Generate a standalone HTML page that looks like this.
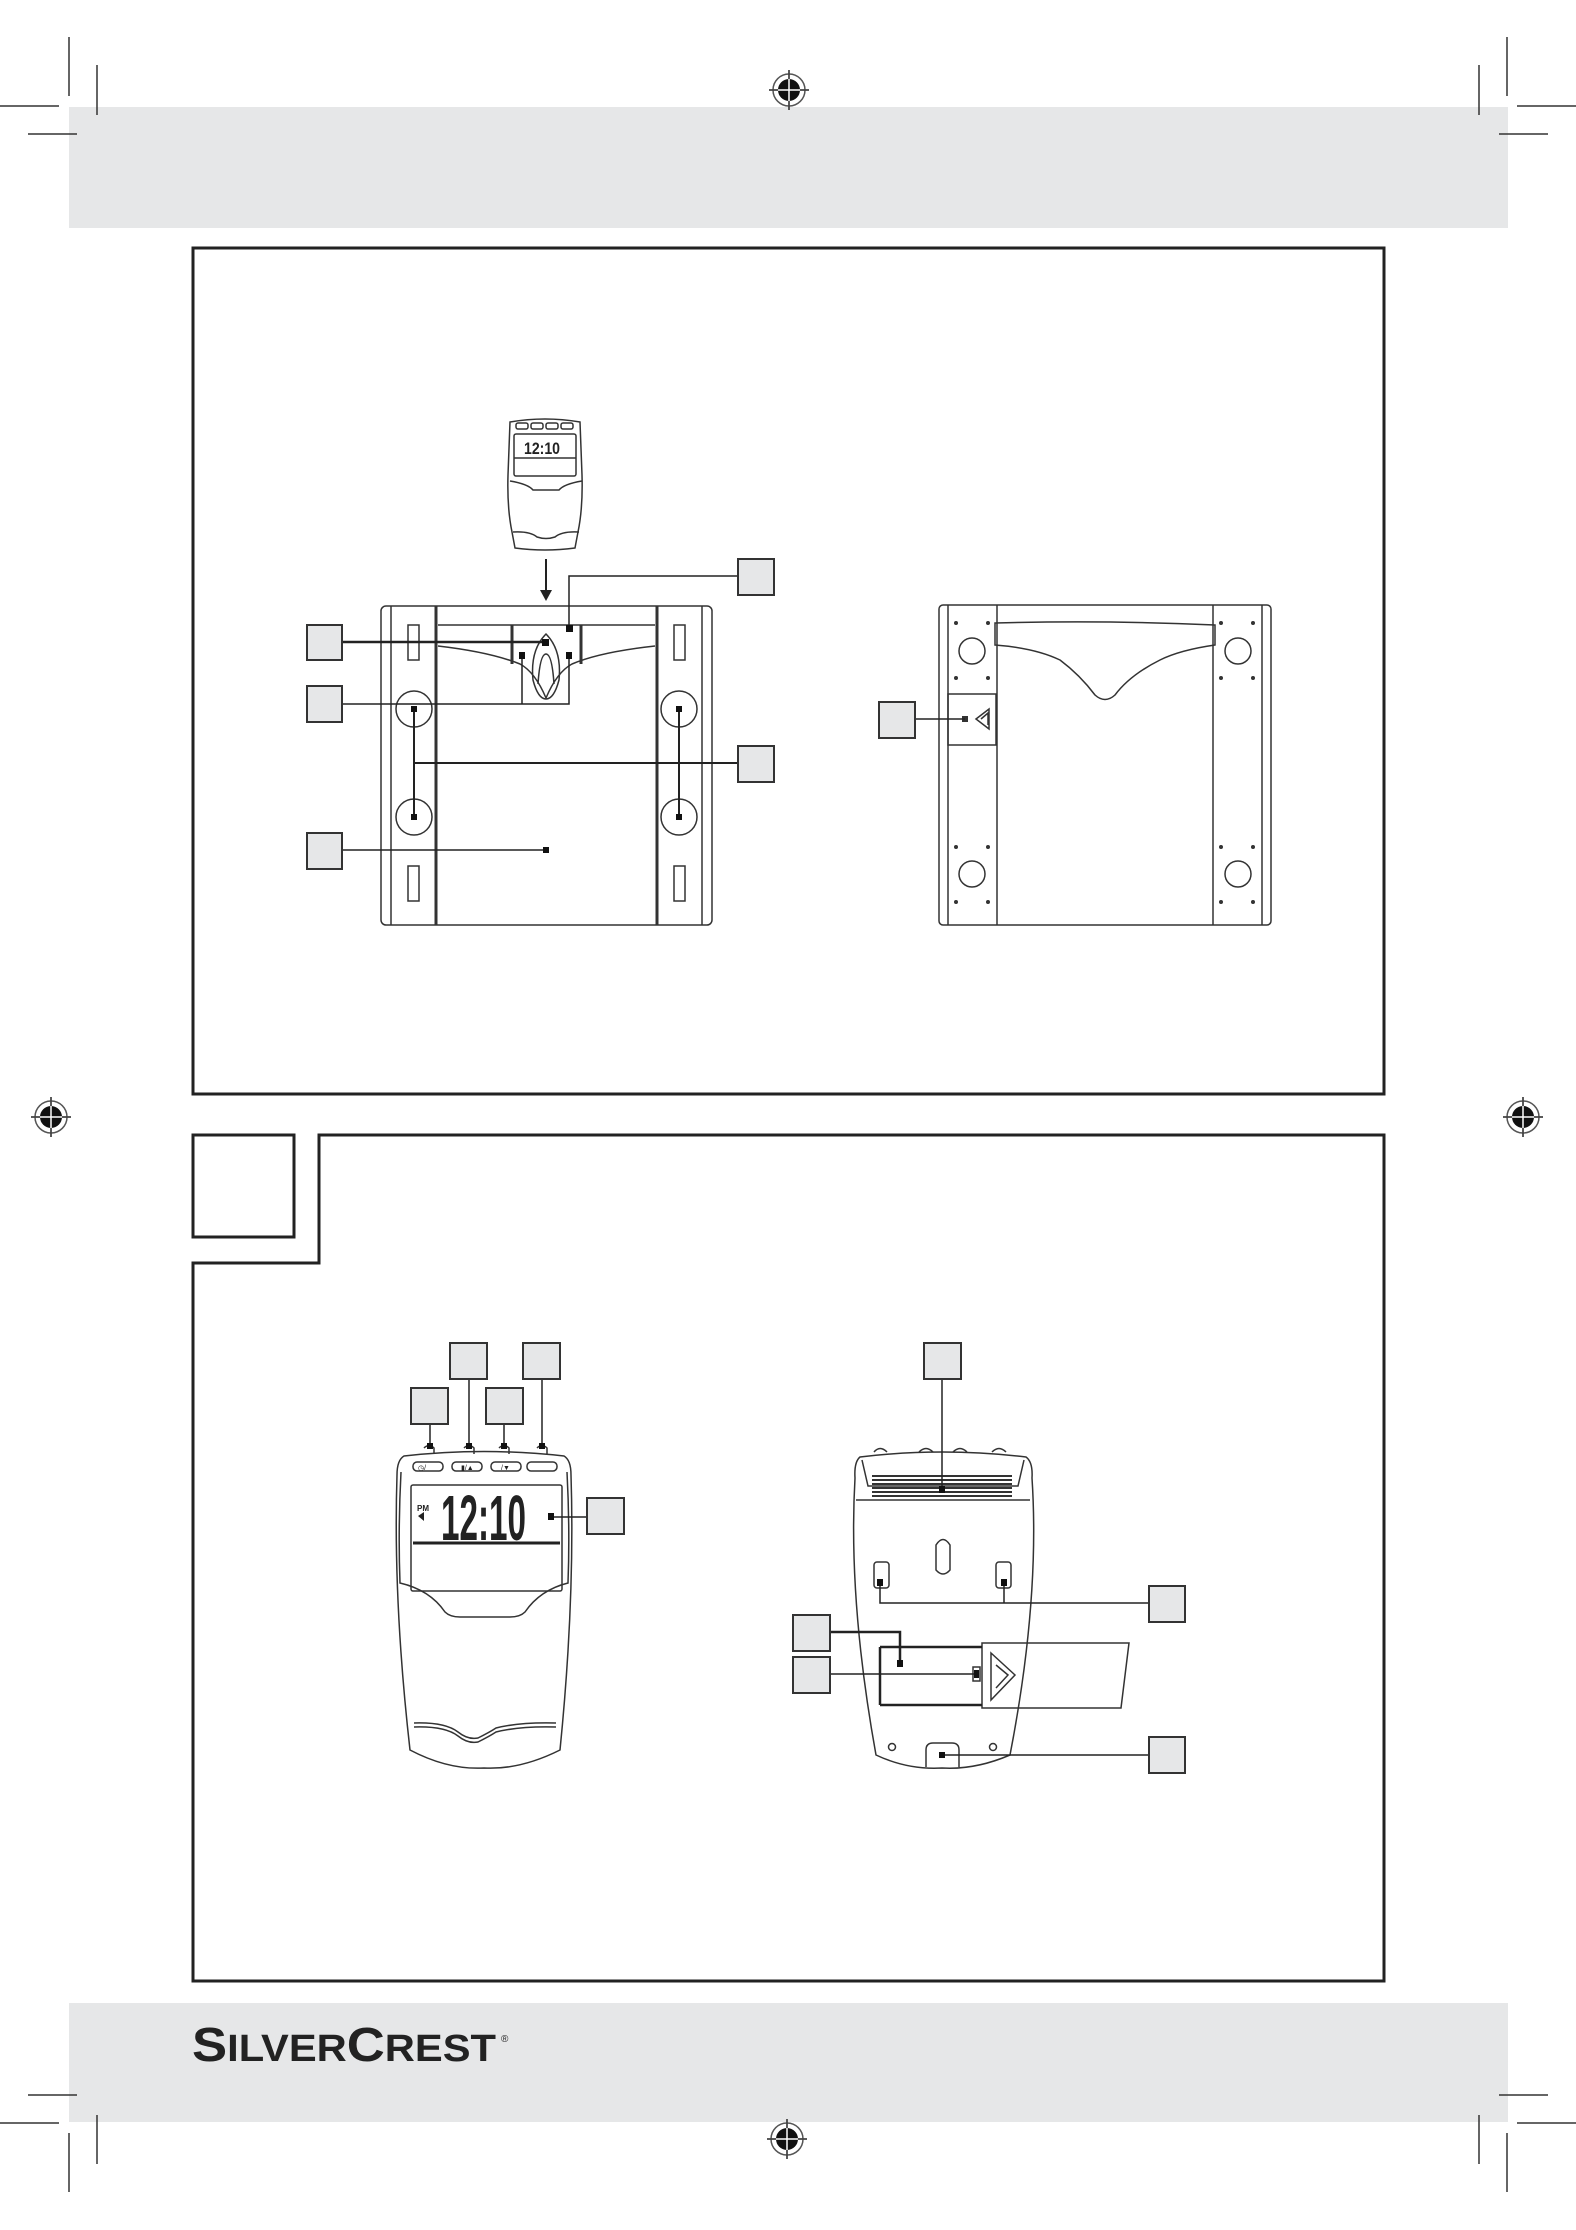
<!DOCTYPE html>
<html><head><meta charset="utf-8"><style>
html,body{margin:0;padding:0;background:#fff}
svg{display:block}
</style></head><body>
<svg width="1576" height="2230" viewBox="0 0 1576 2230" xmlns="http://www.w3.org/2000/svg" font-family="Liberation Sans, sans-serif">
<defs>
<g id="reg">
<circle r="16" fill="none" stroke="#555" stroke-width="1.5"/>
<circle r="11" fill="#111"/>
<line x1="-20" y1="0" x2="20" y2="0" stroke="#fff" stroke-width="1.5"/>
<line x1="0" y1="-20" x2="0" y2="20" stroke="#fff" stroke-width="1.5"/>
<line x1="-20" y1="0" x2="-11" y2="0" stroke="#222" stroke-width="1.5"/>
<line x1="11" y1="0" x2="20" y2="0" stroke="#222" stroke-width="1.5"/>
<line x1="0" y1="-20" x2="0" y2="-11" stroke="#222" stroke-width="1.5"/>
<line x1="0" y1="11" x2="0" y2="20" stroke="#222" stroke-width="1.5"/>
</g>
</defs>
<rect x="69" y="107" width="1439" height="121" fill="#e6e7e8"/>
<rect x="69" y="2003" width="1439" height="119" fill="#e6e7e8"/>
<g stroke="#333" stroke-width="1.5">
<line x1="69" y1="37" x2="69" y2="96"/><line x1="97" y1="65" x2="97" y2="115"/>
<line x1="0" y1="106" x2="59" y2="106"/><line x1="28" y1="134" x2="77" y2="134"/>
<line x1="1507" y1="37" x2="1507" y2="96"/><line x1="1479" y1="65" x2="1479" y2="115"/>
<line x1="1517" y1="106" x2="1576" y2="106"/><line x1="1499" y1="134" x2="1548" y2="134"/>
<line x1="69" y1="2133" x2="69" y2="2192"/><line x1="97" y1="2115" x2="97" y2="2164"/>
<line x1="0" y1="2123" x2="59" y2="2123"/><line x1="28" y1="2095" x2="77" y2="2095"/>
<line x1="1507" y1="2133" x2="1507" y2="2192"/><line x1="1479" y1="2115" x2="1479" y2="2164"/>
<line x1="1517" y1="2123" x2="1576" y2="2123"/><line x1="1499" y1="2095" x2="1548" y2="2095"/>
</g>
<use href="#reg" x="789" y="90"/>
<use href="#reg" x="51" y="1117"/>
<use href="#reg" x="1523" y="1117"/>
<use href="#reg" x="787" y="2139"/>

<rect x="193" y="248" width="1191" height="846" fill="none" stroke="#222" stroke-width="3"/>
<path d="M319 1135 H1384 V1981 H193 V1263 H319 Z" fill="none" stroke="#222" stroke-width="3"/>
<rect x="193" y="1135" width="101" height="102" fill="none" stroke="#222" stroke-width="3"/>

<!-- ===== Left scale (top view) ===== -->
<g fill="none" stroke="#333" stroke-width="1.5">
<path d="M510 422 Q545 416 580 422 L582 475 Q583 508 578 532 L575 548 Q545 552 515 548 L512 532 Q507 508 508 475 Z"/>
<rect x="514" y="434" width="62" height="42" rx="2"/>
<line x1="514" y1="458" x2="576" y2="458"/>
<path d="M510 481 Q528 484 533 490 H559 Q564 484 582 481"/>
<path d="M513 532 Q530 531 537 537 Q546 540 555 537 Q562 531 579 532"/>
<rect x="516" y="423" width="12" height="6" rx="2"/><rect x="531" y="423" width="12" height="6" rx="2"/>
<rect x="546" y="423" width="12" height="6" rx="2"/><rect x="561" y="423" width="12" height="6" rx="2"/>
<rect x="381" y="606" width="331" height="319" rx="5"/>
<line x1="391" y1="606" x2="391" y2="925"/>
<line x1="436" y1="606" x2="436" y2="925" stroke-width="3"/>
<line x1="657" y1="606" x2="657" y2="925" stroke-width="3"/>
<line x1="702" y1="606" x2="702" y2="925"/>
<line x1="438" y1="625" x2="655" y2="625"/>
<path d="M438 646 Q490 652 520 664 Q535 672 546 698 Q557 672 572 664 Q600 652 655 646"/>
<line x1="512" y1="625" x2="512" y2="664" stroke-width="3"/>
<line x1="581" y1="625" x2="581" y2="664" stroke-width="3"/>
<path d="M546 634 Q530 650 533 680 Q538 699 546 699 Q554 699 559 680 Q562 650 546 634 Z"/>
<path d="M538 684 Q540 654 546 654 Q552 654 554 684"/>
<rect x="408" y="625" width="11" height="35"/><rect x="674" y="625" width="11" height="35"/>
<rect x="408" y="866" width="11" height="35"/><rect x="674" y="866" width="11" height="35"/>
<ellipse cx="414" cy="709" rx="18" ry="18"/><ellipse cx="414" cy="817" rx="18" ry="18"/>
<ellipse cx="679" cy="709" rx="18" ry="18"/><ellipse cx="679" cy="817" rx="18" ry="18"/>
</g>
<text x="524" y="454" font-size="17" font-weight="bold" fill="#222" textLength="36" lengthAdjust="spacingAndGlyphs">12:10</text>
<line x1="546" y1="559" x2="546" y2="592" stroke="#222" stroke-width="2"/>
<path d="M540 590 L552 590 L546 601 Z" fill="#222"/>
<g stroke="#222" fill="none">
<line x1="342" y1="642" x2="546" y2="642" stroke-width="2.5"/>
<path d="M342 704 H569 V655 M522 704 V655" stroke-width="1.5"/>
<path d="M738 576 H569 V628" stroke-width="1.5"/>
<line x1="342" y1="850" x2="546" y2="850" stroke-width="1.5"/>
<path d="M414 763 H738 M414 712 V817 M679 712 V817" stroke-width="2"/>
</g>
<g fill="#111">
<rect x="542" y="639" width="7" height="7"/><rect x="566" y="625" width="7" height="7"/>
<rect x="519" y="652" width="6" height="7"/><rect x="566" y="652" width="6" height="7"/>
<rect x="411" y="706" width="6" height="6"/><rect x="411" y="814" width="6" height="6"/>
<rect x="676" y="706" width="6" height="6"/><rect x="676" y="814" width="6" height="6"/>
<rect x="543" y="847" width="6" height="6"/>
</g>
<g fill="#e6e7e8" stroke="#333" stroke-width="2">
<rect x="307" y="625" width="35" height="35"/><rect x="307" y="686" width="35" height="36"/>
<rect x="307" y="833" width="35" height="36"/><rect x="738" y="559" width="36" height="36"/>
<rect x="738" y="746" width="36" height="36"/>
</g>

<!-- ===== Right scale (bottom view) ===== -->
<g fill="none" stroke="#333" stroke-width="1.5">
<rect x="939" y="605" width="332" height="320" rx="4"/>
<line x1="948" y1="605" x2="948" y2="925"/><line x1="997" y1="605" x2="997" y2="925"/>
<line x1="1213" y1="605" x2="1213" y2="925"/><line x1="1262" y1="605" x2="1262" y2="925"/>
<path d="M995 623 Q1105 620 1215 625 V645 Q1180 650 1160 660 Q1130 675 1115 695 Q1105 704 1095 695 Q1080 675 1060 660 Q1035 648 995 645 Z"/>
<circle cx="972" cy="651" r="13"/><circle cx="1238" cy="651" r="13"/>
<circle cx="972" cy="874" r="13"/><circle cx="1238" cy="874" r="13"/>
<rect x="948" y="694" width="48" height="51"/>
<path d="M976 719 L989 709 V729 Z M981 719 L988 713 V725"/>
</g>
<g fill="#333">
<circle cx="956" cy="623" r="2"/><circle cx="988" cy="623" r="2"/><circle cx="956" cy="678" r="2"/><circle cx="988" cy="678" r="2"/>
<circle cx="956" cy="847" r="2"/><circle cx="988" cy="847" r="2"/><circle cx="956" cy="902" r="2"/><circle cx="988" cy="902" r="2"/>
<circle cx="1221" cy="623" r="2"/><circle cx="1253" cy="623" r="2"/><circle cx="1221" cy="678" r="2"/><circle cx="1253" cy="678" r="2"/>
<circle cx="1221" cy="847" r="2"/><circle cx="1253" cy="847" r="2"/><circle cx="1221" cy="902" r="2"/><circle cx="1253" cy="902" r="2"/>
<rect x="962" y="716" width="6" height="6"/>
</g>
<line x1="915" y1="719" x2="965" y2="719" stroke="#222" stroke-width="1.5"/>
<rect x="879" y="702" width="36" height="36" fill="#e6e7e8" stroke="#333" stroke-width="2"/>

<!-- ===== Front of display unit ===== -->
<g fill="none" stroke="#333" stroke-width="1.5">
<path d="M404 1456 Q484 1447 564 1456 Q571 1460 571 1475 Q575 1600 560 1750 Q520 1770 484 1768 Q448 1770 410 1750 Q393 1600 397 1475 Q397 1460 404 1456 Z"/>
<path d="M401 1472 Q398 1530 400 1583 Q430 1590 445 1612 Q450 1617 460 1617 H510 Q520 1617 525 1612 Q540 1590 568 1583 Q570 1530 567 1472"/>
<rect x="411" y="1485" width="151" height="106" rx="2"/>
<rect x="413" y="1462" width="30" height="9" rx="4"/><rect x="452" y="1462" width="30" height="9" rx="4"/>
<rect x="491" y="1462" width="30" height="9" rx="4"/><rect x="527" y="1462" width="30" height="9" rx="4"/>
<path d="M424 1448 Q429 1443 434 1448 V1454 M464 1448 Q469 1443 474 1448 V1454 M499 1448 Q504 1443 509 1448 V1454 M537 1448 Q542 1443 547 1448 V1454"/>
<path d="M414 1723 Q445 1722 458 1732 Q468 1740 478 1738 Q490 1732 496 1728 Q520 1722 556 1723"/>
<path d="M414 1727 Q445 1726 458 1736 Q468 1744 478 1742 Q490 1736 496 1732 Q520 1726 556 1727"/>
</g>
<line x1="413" y1="1543" x2="560" y2="1543" stroke="#222" stroke-width="3"/>
<text x="441" y="1540" font-size="64" font-weight="bold" fill="#222" textLength="85" lengthAdjust="spacingAndGlyphs">12:10</text>
<text x="417" y="1511" font-size="8" font-weight="bold" fill="#222">PM</text>
<path d="M418 1516 L424 1512 V1521 Z" fill="#222"/>
<text x="418" y="1470" font-size="7" fill="#222">◷/</text>
<text x="461" y="1470" font-size="7" fill="#222">▮/▲</text>
<text x="501" y="1470" font-size="7" fill="#222">/▼</text>
<g stroke="#222" stroke-width="1.5">
<line x1="430" y1="1424" x2="430" y2="1448"/><line x1="469" y1="1379" x2="469" y2="1448"/>
<line x1="504" y1="1424" x2="504" y2="1448"/><line x1="542" y1="1379" x2="542" y2="1448"/>
<line x1="552" y1="1517" x2="587" y2="1517"/>
</g>
<g fill="#111">
<rect x="427" y="1443" width="6" height="6"/><rect x="466" y="1443" width="6" height="6"/>
<rect x="501" y="1443" width="6" height="6"/><rect x="539" y="1443" width="6" height="6"/>
<rect x="548" y="1513" width="6" height="7"/>
</g>
<g fill="#e6e7e8" stroke="#333" stroke-width="2">
<rect x="411" y="1388" width="37" height="36"/><rect x="450" y="1343" width="37" height="36"/>
<rect x="486" y="1388" width="37" height="36"/><rect x="523" y="1343" width="37" height="36"/>
<rect x="587" y="1498" width="37" height="36"/>
</g>

<!-- ===== Back of display unit ===== -->
<g fill="none" stroke="#333" stroke-width="1.5">
<path d="M860 1457 Q942 1447 1026 1457 Q1033 1462 1032 1478 Q1040 1600 1010 1755 Q975 1770 942 1768 Q908 1770 876 1755 Q848 1600 855 1478 Q854 1462 860 1457 Z"/>
<path d="M856 1500 H1030"/>
<path d="M862 1460 L868 1486 H1018 L1024 1460"/>
<path d="M874 1452 Q880 1445 887 1452 M919 1452 Q926 1445 933 1452 M953 1452 Q960 1445 967 1452 M992 1452 Q999 1445 1006 1452"/>
<path d="M936 1545 Q943 1534 950 1545 V1570 Q943 1578 936 1570 Z"/>
<rect x="874" y="1562" width="15" height="26" rx="3"/><rect x="996" y="1562" width="15" height="26" rx="3"/>
<path d="M982 1643 H1129 L1121 1708 H982 Z"/>
<path d="M991 1653 L1015 1675 L991 1700 Z M996 1665 L1008 1675 L996 1688"/>
<path d="M926 1767 V1750 Q926 1743 933 1743 H952 Q959 1743 959 1750 V1767"/>
<circle cx="892" cy="1747" r="3.5"/><circle cx="993" cy="1747" r="3.5"/>
<rect x="973" y="1667" width="7" height="14"/>
</g>
<g stroke="#333" stroke-width="2">
<line x1="872" y1="1476" x2="1012" y2="1476"/><line x1="872" y1="1480" x2="1012" y2="1480"/>
<line x1="872" y1="1484" x2="1012" y2="1484"/><line x1="872" y1="1488" x2="1012" y2="1488"/>
<line x1="872" y1="1492" x2="1012" y2="1492"/><line x1="872" y1="1496" x2="1012" y2="1496"/>
</g>
<path d="M880 1647 H982 M880 1705 H982 M880 1647 V1705" stroke="#222" stroke-width="2.5" fill="none"/>
<g stroke="#222" fill="none" stroke-width="1.5">
<line x1="942" y1="1379" x2="942" y2="1490"/>
<path d="M880 1582 V1603 H1149 M1004 1582 V1603"/>
<path d="M830 1632 H900 V1663" stroke-width="2.5"/>
<line x1="830" y1="1674" x2="976" y2="1674"/>
<line x1="942" y1="1755" x2="1149" y2="1755"/>
</g>
<g fill="#111">
<rect x="939" y="1486" width="6" height="7"/><rect x="877" y="1579" width="6" height="7"/><rect x="1001" y="1579" width="6" height="7"/>
<rect x="897" y="1660" width="6" height="7"/><rect x="974" y="1670" width="5" height="8"/><rect x="939" y="1752" width="6" height="6"/>
</g>
<g fill="#e6e7e8" stroke="#333" stroke-width="2">
<rect x="924" y="1343" width="37" height="36"/><rect x="1149" y="1586" width="36" height="36"/>
<rect x="793" y="1615" width="37" height="36"/><rect x="793" y="1657" width="37" height="36"/>
<rect x="1149" y="1737" width="36" height="36"/>
</g>

<!-- logo -->
<text x="192" y="2061" font-weight="bold" fill="#222" textLength="304" lengthAdjust="spacingAndGlyphs"><tspan font-size="48">S</tspan><tspan font-size="38">ILVER</tspan><tspan font-size="48">C</tspan><tspan font-size="38">REST</tspan></text>
<text x="501" y="2042" font-size="10" fill="#222">®</text>
</svg>
</body></html>
